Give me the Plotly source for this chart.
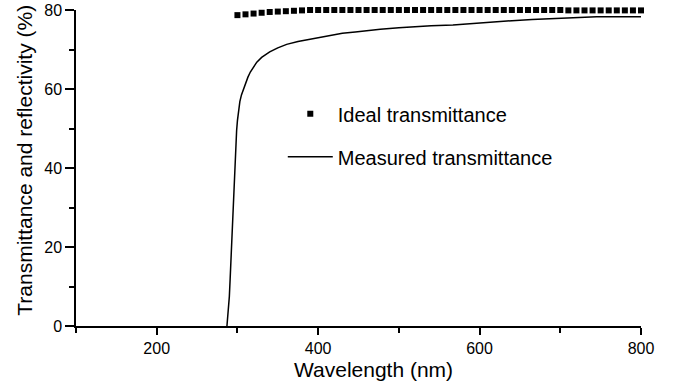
import plotly.graph_objects as go

# Ideal transmittance (square markers)
ideal_wl = [300, 310, 320, 330, 340, 350, 360, 370, 380, 390, 400, 410, 420, 430, 440,
            450, 460, 470, 480, 490, 500, 510, 520, 530, 540, 550, 560, 570, 580, 590,
            600, 610, 620, 630, 640, 650, 660, 670, 680, 690, 700, 710, 720, 730, 740,
            750, 760, 770, 780, 790, 800]
ideal_t = [78.7, 78.9, 79.1, 79.3, 79.5, 79.6, 79.7, 79.8, 79.9, 80.0, 80.0, 80.0, 80.0, 80.0, 80.0,
           80.0, 80.0, 80.0, 80.0, 80.0, 80.0, 80.0, 80.0, 80.0, 80.0, 80.0, 80.0, 80.0, 80.0, 80.0,
           80.0, 80.0, 80.0, 80.0, 80.0, 80.0, 80.0, 80.0, 80.0, 80.0, 80.0, 79.9, 79.9, 79.9, 79.9,
           79.9, 79.9, 79.9, 79.9, 79.9, 79.9]

# Measured transmittance (solid line)
meas_wl = [287, 288, 289, 290, 291, 292, 293, 294, 295, 296, 297, 298, 299, 300, 301, 302,
           303, 305, 307, 309, 311, 313, 316, 320, 324, 330, 335, 340, 350, 361, 375, 386,
           400, 415, 430, 446, 460, 477, 500, 518, 540, 567, 584, 607, 634, 665, 700, 708,
           745, 770, 800]
meas_t = [0.0, 2.0, 4.5, 7.5, 12.0, 17.0, 22.5, 28.0, 33.0, 38.0, 42.5, 46.0, 49.5, 52.0, 54.0, 55.5,
          56.8, 58.5, 59.7, 60.8, 62.0, 63.0, 64.3, 65.7, 66.8, 68.0, 68.8, 69.4, 70.4, 71.3, 72.0, 72.4,
          73.0, 73.6, 74.1, 74.4, 74.8, 75.1, 75.5, 75.8, 76.0, 76.2, 76.5, 76.9, 77.2, 77.6, 77.9, 78.1,
          78.3, 78.3, 78.3]

x_title = "Wavelength (nm)"
y_title = "Transmittance and reflectivity (%)"

FONT = "Arial, 'Liberation Sans', sans-serif"

fig = go.Figure()
fig.add_trace(go.Scatter(
    x=ideal_wl, y=ideal_t, mode="markers", name="Ideal transmittance",
    marker=dict(symbol="square", size=6, color="black"),
    legendgroup="a", cliponaxis=False,
))
fig.add_trace(go.Scatter(
    x=meas_wl, y=meas_t, mode="lines", name="Measured transmittance",
    line=dict(color="black", width=1.5),
    legendgroup="b", cliponaxis=False,
))

fig.update_layout(
    width=676, height=381,
    margin=dict(l=76, r=35, t=10, b=55),
    paper_bgcolor="white", plot_bgcolor="white",
    font=dict(family=FONT, color="black", size=16),
    showlegend=True,
    legend=dict(x=0.366, y=0.733, xanchor="left", yanchor="top",
                bgcolor="rgba(0,0,0,0)", font=dict(size=20, family=FONT),
                tracegroupgap=14, itemwidth=45),
    xaxis=dict(
        range=[100, 800], showgrid=False, zeroline=False, automargin=False,
        showline=True, linecolor="black", linewidth=1.5,
        ticks="outside", tick0=0, dtick=200, ticklen=7, tickwidth=1.5, tickcolor="black",
        minor=dict(dtick=100, ticks="outside", ticklen=5, tickwidth=1.5, tickcolor="black"),
        tickfont=dict(size=16),
    ),
    yaxis=dict(
        range=[0, 80], showgrid=False, zeroline=False, automargin=False,
        showline=True, linecolor="black", linewidth=1.5,
        ticks="outside", tick0=0, dtick=20, ticklen=9, tickwidth=1.5, tickcolor="black",
        minor=dict(dtick=10, ticks="outside", ticklen=5, tickwidth=1.5, tickcolor="black"),
        tickfont=dict(size=16),
    ),
    annotations=[
        dict(text=x_title, xref="paper", yref="paper", x=0.527, y=-0.138,
             xanchor="center", yanchor="middle", showarrow=False, font=dict(size=21)),
        dict(text=y_title, xref="paper", yref="paper", x=-0.091, y=0.525, textangle=-90,
             xanchor="center", yanchor="middle", showarrow=False, font=dict(size=21)),
    ],
)

fig.write_html("out.html")
